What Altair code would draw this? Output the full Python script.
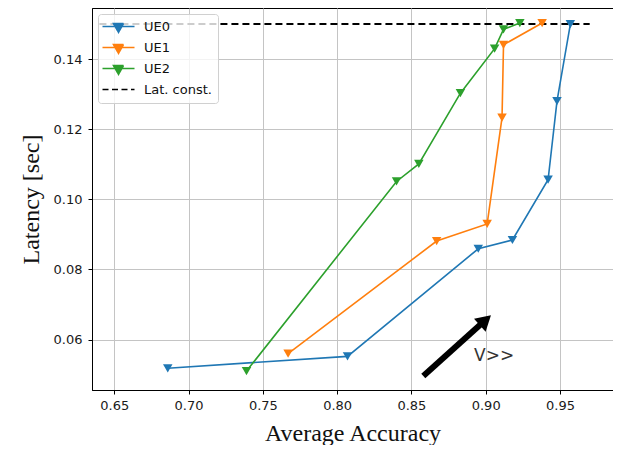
import altair as alt
import pandas as pd

# ---- data ----
series_names = ["UE0", "UE1", "UE2", "Lat. const."]
series_colors = ["#1f77b4", "#ff7f0e", "#2ca02c", "#000000"]

ue0_acc = [0.686, 0.807, 0.895, 0.918, 0.942, 0.948, 0.957]
ue0_lat = [0.0518, 0.0552, 0.0859, 0.0884, 0.1056, 0.1280, 0.1500]

ue1_acc = [0.767, 0.867, 0.901, 0.911, 0.912, 0.938]
ue1_lat = [0.0560, 0.0881, 0.0930, 0.1233, 0.1441, 0.1503]

ue2_acc = [0.739, 0.840, 0.855, 0.883, 0.906, 0.912, 0.923]
ue2_lat = [0.0510, 0.1051, 0.1101, 0.1303, 0.1430, 0.1485, 0.1503]

const_acc = [0.64, 0.97]
const_lat = [0.15, 0.15]

arrow_acc = [0.858, 0.8978]
arrow_lat = [0.0496, 0.0648]
head_acc = [0.8998]
head_lat = [0.0655]
note_acc = [0.8922]
note_lat = [0.0538]
note_text = ["V>>"]

x_ticks = [0.65, 0.70, 0.75, 0.80, 0.85, 0.90, 0.95]
y_ticks = [0.06, 0.08, 0.10, 0.12, 0.14]

# ---- tables ----
rows = []
for name, accs, lats in [("UE0", ue0_acc, ue0_lat), ("UE1", ue1_acc, ue1_lat), ("UE2", ue2_acc, ue2_lat)]:
    for i, (a, l) in enumerate(zip(accs, lats)):
        rows.append({"series": name, "acc": a, "lat": l, "idx": i})
curves = pd.DataFrame(rows)
const_df = pd.DataFrame({"acc": const_acc, "lat": const_lat, "idx": list(range(len(const_acc)))})
legend_df = pd.DataFrame({"series": series_names, "acc": [0.7] * 4, "lat": [0.1] * 4})
arrow_df = pd.DataFrame({"acc": arrow_acc, "lat": arrow_lat, "idx": [0, 1]})
head_df = pd.DataFrame({"acc": head_acc, "lat": head_lat})
note_df = pd.DataFrame({"acc": note_acc, "lat": note_lat, "text": note_text})

x_scale = alt.Scale(domain=[0.635, 0.9857], nice=False, zero=False)
y_scale = alt.Scale(domain=[0.0456, 0.1546], nice=False, zero=False)
X = alt.X("acc:Q", scale=x_scale,
          axis=alt.Axis(values=x_ticks, format=".2f", title="Average Accuracy", labelPadding=5, titlePadding=9))
Y = alt.Y("lat:Q", scale=y_scale,
          axis=alt.Axis(values=y_ticks, format=".2f", title="Latency [sec]", labelPadding=6, titlePadding=10))

ue_scale = alt.Scale(domain=series_names[:3], range=series_colors[:3])

tri_path = "M-3.2,0H3.2M-1,-0.58H1L0,1.16Z"
dash_path = "M-3.2,0H3.2"
legend = alt.Legend(
    title=None, orient="top-left", offset=6, padding=6,
    fillColor="rgba(255,255,255,0.8)", strokeColor="#d0d0d0", cornerRadius=3,
    labelFont="DejaVu Sans", labelFontSize=13, labelColor="#111111",
    symbolSize=100, symbolOffset=8, labelOffset=19, rowPadding=5,
    symbolStrokeWidth=1.6, symbolOpacity=1,
)

lines = alt.Chart(curves).mark_line(strokeWidth=1.6).encode(
    x=X, y=Y, order="idx:Q",
    color=alt.Color("series:N", scale=ue_scale, legend=None),
)
points = alt.Chart(curves).mark_point(shape="triangle-down", filled=True, size=90, opacity=1).encode(
    x=X, y=Y,
    color=alt.Color("series:N", scale=ue_scale, legend=None),
)
const_line = alt.Chart(const_df).mark_line(strokeWidth=2, strokeDash=[7, 4], color="black").encode(
    x=X, y=Y, order="idx:Q",
)
legend_layer = alt.Chart(legend_df).transform_filter("false").mark_point(filled=True, size=100).encode(
    x=X, y=Y,
    fill=alt.Fill("series:N", scale=alt.Scale(domain=series_names, range=series_colors), legend=legend),
    stroke=alt.Stroke("series:N", scale=alt.Scale(domain=series_names, range=series_colors), legend=legend),
    shape=alt.Shape("series:N", scale=alt.Scale(domain=series_names, range=[tri_path, tri_path, tri_path, dash_path]), legend=legend),
    strokeDash=alt.StrokeDash("series:N", scale=alt.Scale(domain=series_names, range=[[1, 0], [1, 0], [1, 0], [6, 3.5]]), legend=legend),
)
arrow = alt.Chart(arrow_df).mark_line(strokeWidth=6, color="black", strokeCap="butt").encode(
    x=X, y=Y, order="idx:Q")
head = alt.Chart(head_df).mark_point(shape="triangle-up", filled=True, size=300, angle=48, color="black", opacity=1).encode(
    x=X, y=Y)
note = alt.Chart(note_df).mark_text(align="left", baseline="alphabetic", fontSize=17, font="DejaVu Sans", color="#333333").encode(
    x=X, y=Y, text="text:N")

chart = alt.layer(const_line, lines, points, arrow, head, note, legend_layer).properties(
    width=521, height=382,
    padding={"left": 11, "top": 0, "right": 0, "bottom": 0},
).configure_axis(
    grid=True, gridColor="#c4c4c4", gridWidth=1,
    domainColor="black", tickColor="black", tickSize=4,
    labelFont="DejaVu Sans", labelFontSize=13, labelColor="#1a1a1a",
    titleFont="Liberation Serif", titleFontSize=24, titleFontWeight="normal", titleColor="#111111",
).configure_view(stroke="black", strokeWidth=1)

chart.save("out.html", embed_options={"renderer": "svg", "actions": False})
